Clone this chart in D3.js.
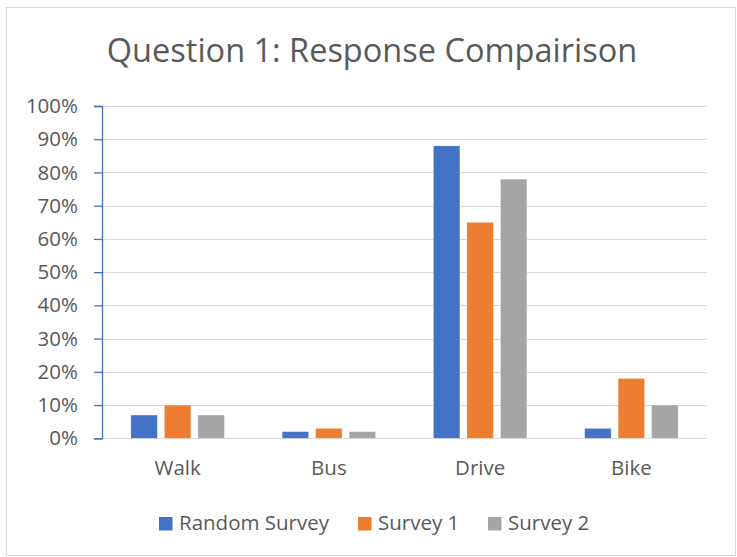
<!DOCTYPE html>
<html>
<head>
<meta charset="utf-8">
<script src="https://cdn.jsdelivr.net/npm/d3@7"></script>
<style>
  html, body { margin: 0; padding: 0; background: #ffffff; }
  svg { display: block; font-family: "Open Sans", "Noto Sans", sans-serif; }
</style>
</head>
<body>
<svg id="chart" width="737" height="557"></svg>
<script>
// Survey answers for question 1 (share of respondents per travel mode)
const categories = ["Walk", "Bus", "Drive", "Bike"];
const seriesNames = ["Random Survey", "Survey 1", "Survey 2"];
const randomSurvey = [0.07, 0.02, 0.88, 0.03];
const survey1 = [0.10, 0.03, 0.65, 0.18];
const survey2 = [0.07, 0.02, 0.78, 0.10];
const yTicks = [0, 0.1, 0.2, 0.3, 0.4, 0.5, 0.6, 0.7, 0.8, 0.9, 1.0];
const colors = ["#4472C4", "#ED7D31", "#A5A5A5"];
const titleText = "Question 1: Response Compairison";

const seriesValues = [randomSurvey, survey1, survey2];
const rows = categories.map((c, i) => ({
  category: c,
  values: seriesNames.map((s, j) => ({ series: s, value: seriesValues[j][i], color: colors[j] }))
}));

const svg = d3.select("#chart");
const W = 737, H = 557;
const textColor = "#595959";
const labelSize = 20.5;

// outer chart frame
svg.append("rect")
  .attr("x", 6.5).attr("y", 7.5)
  .attr("width", W - 8).attr("height", H - 9)
  .attr("fill", "#ffffff")
  .attr("stroke", "#d9d9d9").attr("stroke-width", 1);

const plot = { left: 102, right: 707, top: 106, bottom: 438.3 };

const x0 = d3.scaleBand()
  .domain(categories)
  .range([plot.left, plot.right])
  .paddingInner(0).paddingOuter(0);

const groupWidth = 93.5;
const x1 = d3.scaleBand()
  .domain(seriesNames)
  .range([0, groupWidth])
  .paddingInner(0.209).paddingOuter(0);

const y = d3.scaleLinear().domain([0, 1]).range([plot.bottom, plot.top]);

// title
svg.append("text")
  .attr("x", 372).attr("y", 62)
  .attr("text-anchor", "middle")
  .attr("font-size", 32.5)
  .attr("fill", textColor)
  .text(titleText);

// horizontal gridlines
svg.append("g")
  .selectAll("line")
  .data(yTicks)
  .join("line")
  .attr("x1", plot.left).attr("x2", plot.right)
  .attr("y1", d => Math.round(y(d)) + 0.5).attr("y2", d => Math.round(y(d)) + 0.5)
  .attr("stroke", "#d9d9d9").attr("stroke-width", 1.2);

// y axis (blue line with outward ticks)
const yAxis = d3.axisLeft(y)
  .tickValues(yTicks)
  .tickFormat(d3.format(".0%"))
  .tickSize(8)
  .tickPadding(16);

const yg = svg.append("g")
  .attr("transform", `translate(${plot.left},0)`)
  .call(yAxis);
yg.select(".domain").attr("stroke", "#4472C4").attr("stroke-width", 1.3);
yg.selectAll(".tick line").attr("stroke", "#4472C4").attr("stroke-width", 1.3);
yg.selectAll(".tick text")
  .attr("font-size", labelSize).attr("fill", textColor)
  .attr("font-family", "'Open Sans', sans-serif");

// x axis labels
const xAxis = d3.axisBottom(x0).tickSize(0).tickPadding(22);
const xg = svg.append("g")
  .attr("transform", `translate(0,${plot.bottom})`)
  .call(xAxis);
xg.select(".domain").remove();
xg.selectAll(".tick text")
  .attr("font-size", labelSize).attr("fill", textColor)
  .attr("font-family", "'Open Sans', sans-serif");

// bars
const groups = svg.append("g")
  .selectAll("g")
  .data(rows)
  .join("g")
  .attr("transform", d => `translate(${x0(d.category) + (x0.bandwidth() - groupWidth) / 2},0)`);

groups.selectAll("rect")
  .data(d => d.values)
  .join("rect")
  .attr("x", d => x1(d.series))
  .attr("width", x1.bandwidth())
  .attr("y", d => y(d.value))
  .attr("height", d => y(0) - y(d.value))
  .attr("fill", d => d.color)
  .attr("stroke", "#ffffff").attr("stroke-opacity", 0.5).attr("stroke-width", 0.6);

// legend
const legendItems = [
  { name: seriesNames[0], color: colors[0], x: 159 },
  { name: seriesNames[1], color: colors[1], x: 358 },
  { name: seriesNames[2], color: colors[2], x: 488 }
];
const lg = svg.append("g")
  .selectAll("g")
  .data(legendItems)
  .join("g")
  .attr("transform", d => `translate(${d.x},517)`);
lg.append("rect")
  .attr("width", 13.5).attr("height", 13.5)
  .attr("fill", d => d.color);
lg.append("text")
  .attr("x", 20).attr("y", 12.5)
  .attr("font-size", labelSize).attr("fill", textColor)
  .text(d => d.name);
</script>
</body>
</html>
